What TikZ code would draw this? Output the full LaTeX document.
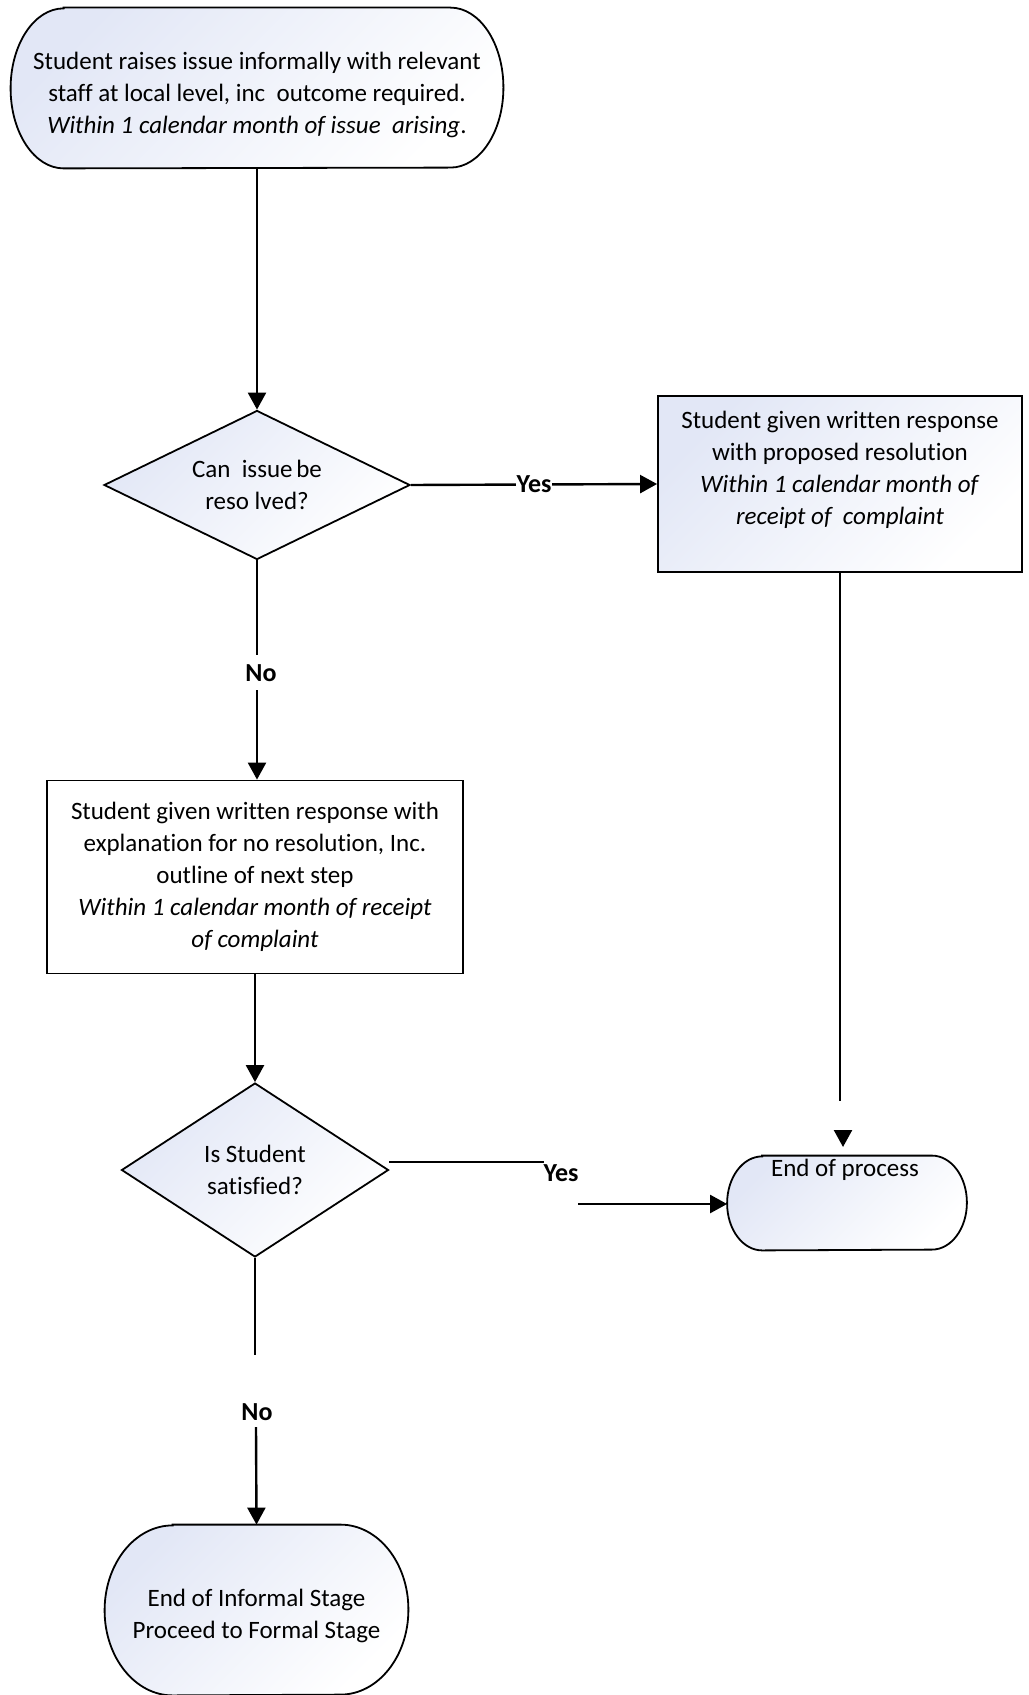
\documentclass[tikz,border=0pt]{standalone}
\usepackage{fontspec}
\setmainfont[Ligatures=NoCommon]{Carlito}
\usetikzlibrary{shapes.geometric,arrows.meta,calc}

\definecolor{shadeblue}{RGB}{226,231,246}

% terminator outline round a named node: name, end depth, half height
\newcommand{\termoutline}[3]{%
  \path[termline] ([xshift=#2]#1.north west) -- ([xshift=-#2]#1.north east)
    arc[start angle=90, end angle=-90, x radius=#2, y radius=#3]
    -- ([xshift=#2]#1.south west)
    arc[start angle=270, end angle=90, x radius=#2, y radius=#3] -- cycle;}

\begin{document}
\begin{tikzpicture}[x=0.5pt, y=-0.5pt,
    txt/.style={align=center, font=\fontsize{12.5}{16}\selectfont},
    lbl/.style={font=\fontsize{13}{16}\selectfont\bfseries, inner sep=0.5pt},
    softfill/.style={top color=shadeblue, bottom color=white, shading angle=45},
    boxline/.style={draw, line width=0.9pt},
    termline/.style={boxline, softfill},
    termnode/.style={rectangle, inner sep=0pt},
    procbox/.style={rectangle, boxline, txt, inner sep=0pt},
    decision/.style={diamond, boxline, softfill, txt, inner sep=0pt},
    wire/.style={line width=1.2pt},
    conn/.style={wire, -{Triangle[length=8.5pt,width=9pt]}}]
    \useasboundingbox (0,0) rectangle (1028,1695);

    \coordinate (S) at (257, 88);
    \coordinate (D1) at (257, 485);
    \coordinate (R) at (840, 484);
    \coordinate (E) at (255, 877);
    \coordinate (D2) at (255, 1170);
    \coordinate (F) at (847, 1203);
    \coordinate (I) at (256.5, 1610);

    \coordinate (N1a) at (257, 655);
    \coordinate (N1b) at (257, 690);
    \coordinate (Y2a) at (544, 1162);
    \coordinate (Y2b) at (578, 1204);
    \coordinate (G1) at (840, 1101);
    \coordinate (G2) at (843, 1130);
    \coordinate (G3) at (843, 1147);
    \coordinate (N2a) at (255, 1355);
    \coordinate (N2b) at (256, 1427);

%shapes
    \node[termnode, minimum width=246pt, minimum height=80pt] (start) at (S) {};
    \node[decision, aspect=2.05, minimum width=153pt, minimum height=74.5pt] (canfix) at (D1)
        {Can\ \ issue\hspace{0.15em}be\\reso lved?};
    \node[procbox, softfill, minimum width=182pt, minimum height=88pt] (resolved) at (R) {};
    \node[procbox, fill=white, minimum width=208pt, minimum height=96.5pt] (explain) at (E)
        {Student given written response with\\explanation for no resolution, Inc.\\outline of next step\\
         \textit{Within 1 calendar month of receipt}\\\textit{of complaint}};
    \node[decision, aspect=1.53, minimum width=133.5pt, minimum height=87pt] (satisfied) at (D2)
        {Is Student\\satisfied?};
    \node[termnode, minimum width=119.5pt, minimum height=47pt] (finish) at (F) {};
    \node[termnode, minimum width=151.5pt, minimum height=85pt] (informal) at (I) {};

    \termoutline{start}{26.5pt}{40pt}
    \termoutline{finish}{17.5pt}{23.5pt}
    \termoutline{informal}{34pt}{42.5pt}

%texts
    \node[txt] (starttxt) at (257, 95)
        {Student raises issue informally with relevant\\staff at local level, inc\ \ outcome required.\\
         \textit{Within 1 calendar month of issue\ \ arising}.};
    \node[txt] (resolvedtxt) at (840, 470)
        {Student given written response\\with proposed resolution\\
         \textit{Within 1 calendar month of}\\\textit{receipt of\ \ complaint}};
    \node[txt] (finishtxt) at (845, 1170) {End of process};
    \node[txt] (informaltxt) at (256.5, 1616) {End of Informal Stage\\Proceed to Formal Stage};

%connectors
    \draw[conn] (start.south) -- (canfix.north);
    \draw[conn] (canfix.east) -- node[lbl, fill=white] (yes1) {Yes} (resolved.west);
    \draw[wire] (canfix.south) -- (N1a);
    \node[lbl] (no1) at (261, 673) {No};
    \draw[conn] (N1b) -- (N1b |- explain.north);
    \draw[conn] (explain.south) -- (satisfied.north);
    \draw[wire] ([yshift=4pt]satisfied.east) -- (Y2a);
    \node[lbl] (yes2) at (561, 1173) {Yes};
    \draw[conn] (Y2b) -- (Y2b -| finish.west);
    \draw[wire] (resolved.south) -- (G1);
    \draw[conn] (G2) -- (G3);
    \draw[wire] (satisfied.south) -- (N2a);
    \node[lbl] (no2) at (257, 1412) {No};
    \draw[conn] (N2b) -- (informal.north);

\end{tikzpicture}
\end{document}
